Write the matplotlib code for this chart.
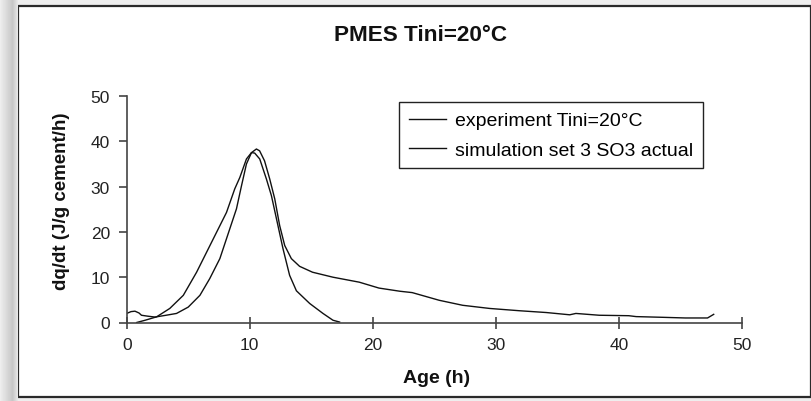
import matplotlib
matplotlib.use("Agg")
import matplotlib.pyplot as plt
import numpy as np
from matplotlib.patches import Rectangle

# ---- data ----
exp_x = [0.0, 0.35, 0.67, 1.0, 1.2, 1.7, 2.3, 3.2, 4.05, 5.0, 5.95, 6.75, 7.57, 8.38,
         8.92, 9.33, 9.73, 10.14, 10.54, 10.8, 11.2, 11.62, 12.03, 12.43, 12.84, 13.38,
         14.05, 15.1, 16.76, 18.9, 20.5, 22.2, 23.2, 25.4, 27.3, 29.5, 31.9, 34.1, 36.0,
         36.5, 38.4, 40.8, 41.4, 43.5, 45.4, 47.2, 47.7]
exp_y = [2.0, 2.4, 2.5, 2.1, 1.6, 1.4, 1.2, 1.6, 2.0, 3.4, 6.0, 9.7, 14.1, 20.7,
         25.1, 30.2, 35.0, 37.5, 38.3, 37.9, 35.7, 31.7, 27.3, 21.4, 17.0, 14.1,
         12.4, 11.1, 10.0, 8.9, 7.6, 6.9, 6.6, 4.9, 3.8, 3.1, 2.6, 2.2, 1.7,
         2.0, 1.6, 1.5, 1.3, 1.15, 1.0, 1.0, 1.8]

sim_x = [0.81, 1.5, 2.43, 3.5, 4.6, 5.68, 6.49, 7.3, 8.11, 8.78, 9.19, 9.73, 10.14,
         10.4, 10.81, 11.35, 11.76, 12.17, 12.7, 13.24, 13.79, 14.87, 15.95, 16.76, 17.3]
sim_y = [0.0, 0.5, 1.25, 3.1, 6.0, 11.1, 15.5, 19.9, 24.3, 29.5, 32.0, 36.1, 37.5,
         37.4, 36.1, 31.7, 28.0, 22.9, 16.3, 10.4, 7.0, 4.2, 2.0, 0.5, 0.1]

x_ticks = [0, 10, 20, 30, 40, 50]
y_ticks = [0, 10, 20, 30, 40, 50]
series_labels = ["experiment Tini=20°C", "simulation set 3 SO3 actual"]
title = "PMES Tini=20°C"
xlabel = "Age (h)"
ylabel = "dq/dt (J/g cement/h)"

plt.rcParams['font.family'] = ['Liberation Sans', 'DejaVu Sans']

W, H = 812, 402
fig = plt.figure(figsize=(W / 100, H / 100), dpi=100)
fig.patch.set_facecolor('#eeeeee')

# left grey gradient strip (screenshot border)
gax = fig.add_axes([0, 0, 18 / W, 1])
g = np.concatenate([np.linspace(0.93, 0.78, 13), np.linspace(0.80, 0.90, 5)])
gax.imshow(np.tile(g, (10, 1)), aspect='auto', cmap='gray', vmin=0, vmax=1)
gax.axis('off')

# white chart frame (behind the axes)
fig.add_artist(Rectangle((18 / W, 4 / H), 793 / W, 391 / H, transform=fig.transFigure,
                         facecolor='white', edgecolor='#2a2a2a', linewidth=1.6, zorder=-5))

ax = fig.add_axes([126.7 / W, (H - 323.5) / H, (742 - 126.7) / W, (323.5 - 97) / H])
ax.set_facecolor('none')
ax.set_zorder(2)
l1, = ax.plot(exp_x, exp_y, color='#111111', lw=1.0, label=series_labels[0])
l2, = ax.plot(sim_x, sim_y, color='#111111', lw=1.0, label=series_labels[1])

ax.set_xlim(0, 50)
ax.set_ylim(0, 50)
ax.set_xticks(x_ticks)
ax.set_yticks(y_ticks)
for s in ['top', 'right']:
    ax.spines[s].set_visible(False)
for s in ['left', 'bottom']:
    ax.spines[s].set_color('#444444')
    ax.spines[s].set_linewidth(1.2)
ax.tick_params(axis='x', direction='inout', length=9, width=1.2, color='#444444',
               labelsize=12.5, pad=6, labelcolor='#222222')
ax.tick_params(axis='y', direction='out', length=6, width=1.2, color='#444444',
               labelsize=12.5, pad=6, labelcolor='#222222')

leg = ax.legend(handles=[l1, l2], loc='upper left',
                bbox_to_anchor=(399 / W, 1 - 103 / H), bbox_transform=fig.transFigure,
                borderaxespad=0, frameon=True, fancybox=False, edgecolor='#222222',
                framealpha=1, prop={'size': 14}, handlelength=1.9, handletextpad=0.5,
                labelspacing=0.6, borderpad=0.5)
leg.get_frame().set_linewidth(1.0)

fig.text(421 / W, 1 - 35.5 / H, title, ha='center', va='center', fontsize=16.2,
         fontweight='bold', color='#111111', zorder=3)
fig.text(437 / W, 1 - 379 / H, xlabel, ha='center', va='center', fontsize=14,
         fontweight='bold', color='#111111', zorder=3)
fig.text(62 / W, 1 - 201 / H, ylabel, ha='center', va='center', fontsize=13.5,
         fontweight='bold', rotation=90, color='#111111', zorder=3)

fig.savefig('out.png', dpi=100, facecolor=fig.get_facecolor())
